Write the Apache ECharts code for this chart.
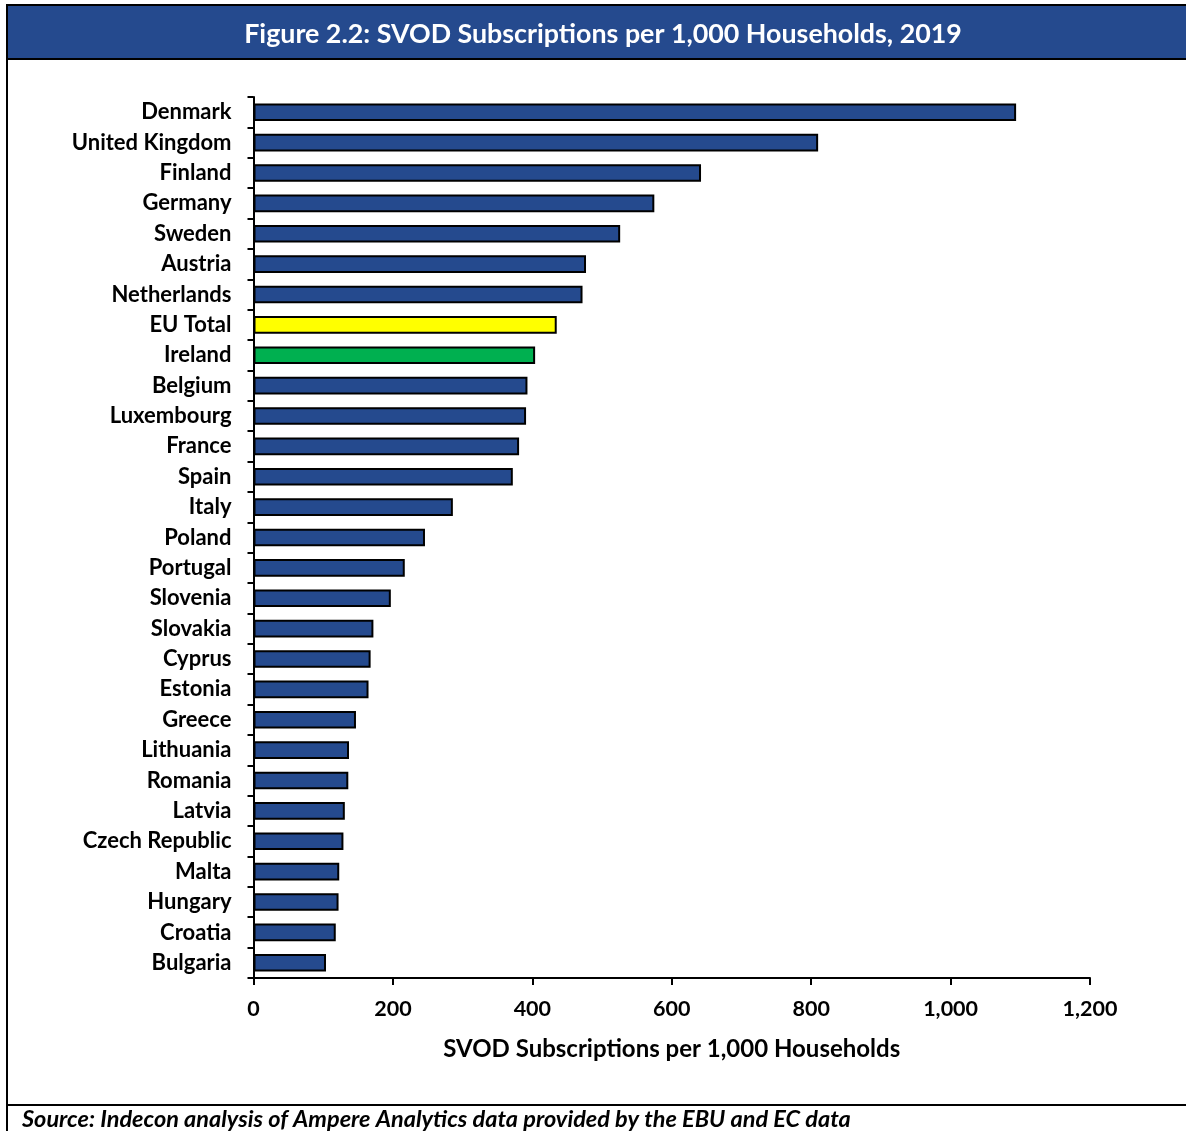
<!DOCTYPE html>
<html>
<head>
<meta charset="utf-8">
<script src="https://cdn.jsdelivr.net/npm/echarts@6/dist/echarts.min.js"></script>
<style>
html,body{margin:0;padding:0;background:#fff;}
#main{width:1186px;height:1131px;}
</style>
</head>
<body>
<div id="main"></div>
<script>
// 数据
var countries = ['Denmark','United Kingdom','Finland','Germany','Sweden','Austria','Netherlands','EU Total','Ireland','Belgium','Luxembourg','France','Spain','Italy','Poland','Portugal','Slovenia','Slovakia','Cyprus','Estonia','Greece','Lithuania','Romania','Latvia','Czech Republic','Malta','Hungary','Croatia','Bulgaria'];
var subsPer1000 = [1094,810,642,575,526,477,472,435,404,393,391,381,372,286,246,217,197,172,168,165,147,137,136,131,129,123,122,118,104];
var highlight = {'EU Total':'#ffff00','Ireland':'#00b050'};
var xTicks = [0,200,400,600,800,1000,1200];

var FONT = 'Lato, "Open Sans", sans-serif';
var myChart = echarts.init(document.getElementById('main'));

var options = {
    animation:false,
    backgroundColor:'#fff',
    title:{
        text:'Figure 2.2: SVOD Subscriptions per 1,000 Households, 2019',
        left:598, top:16, textAlign:'center',
        textStyle:{color:'#fff', fontFamily:FONT, fontWeight:'bold', fontSize:26.8}
    },
    graphic:[
        {type:'rect', z:-1, shape:{x:7,y:5,width:1190,height:54}, style:{fill:'#254a8e',stroke:'#000',lineWidth:2}},
        {type:'line', shape:{x1:7,y1:5,x2:7,y2:1131}, style:{stroke:'#000',lineWidth:2}},
        {type:'line', shape:{x1:7,y1:1105,x2:1190,y2:1105}, style:{stroke:'#000',lineWidth:2}},
        {type:'text', left:22, top:1108, style:{text:'Source: Indecon analysis of Ampere Analytics data provided by the EBU and EC data', fill:'#000', font:'italic bold 23.5px ' + FONT}}
    ],
    grid:{left:253.5, right:96, top:97, bottom:153, containLabel:false},
    xAxis:{
        type:'value', min:0, max:1200, interval:200,
        name:'SVOD Subscriptions per 1,000 Households',
        nameLocation:'middle', nameGap:59,
        nameTextStyle:{color:'#000', fontFamily:FONT, fontWeight:'bold', fontSize:24}, 
        axisLine:{show:true, lineStyle:{color:'#000', width:2}},
        axisTick:{show:true, length:7, lineStyle:{color:'#000', width:2}},
        splitLine:{show:false},
        axisLabel:{color:'#000', fontFamily:FONT, fontWeight:'bold', fontSize:21.5, margin:20,
            formatter:function(v){ return xTicks.indexOf(v) >= 0 ? v.toLocaleString('en-US') : ''; }}
    },
    yAxis:{
        type:'category', inverse:true, data:countries,
        axisLine:{show:true, lineStyle:{color:'#000', width:2}},
        axisTick:{show:true, length:6, lineStyle:{color:'#000', width:2}},
        axisLabel:{color:'#000', fontFamily:FONT, fontWeight:'bold', fontSize:22, margin:22}
    },
    series:[{
        type:'bar',
        barWidth:'58%',
        data:subsPer1000.map(function(v,i){
            return {value:v, itemStyle:{color: highlight[countries[i]] || '#254a8e'}};
        }),
        itemStyle:{borderColor:'#000', borderWidth:2}
    }]
};
myChart.setOption(options);
</script>
</body>
</html>
